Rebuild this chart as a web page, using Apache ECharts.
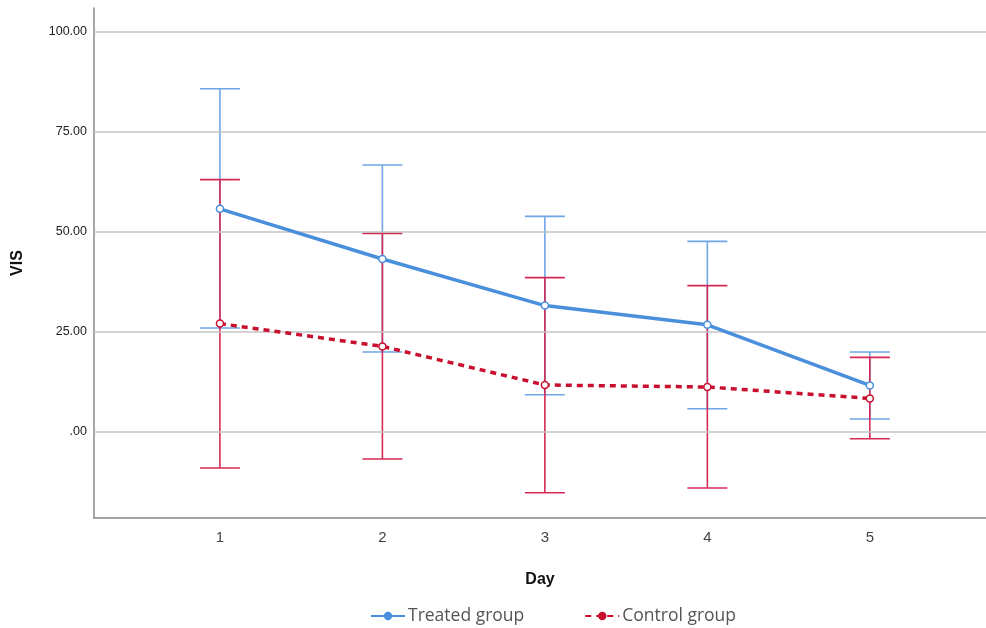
<!DOCTYPE html>
<html><head><meta charset="utf-8">
<script src="https://cdn.jsdelivr.net/npm/echarts@6/dist/echarts.min.js"></script>
<style>html,body{margin:0;padding:0;background:#fff}#c{width:986px;height:628px}</style>
</head><body><div id="c"></div>
<script>
const days = [1, 2, 3, 4, 5];
const treatedMean = [55.8, 43.25, 31.6, 26.8, 11.65];
const treatedLow = [26, 20, 9.3, 5.8, 3.25];
const treatedHigh = [85.8, 66.75, 53.9, 47.65, 20];
const controlMean = [27.1, 21.4, 11.75, 11.25, 8.4];
const controlLow = [-9, -6.75, -15.2, -14, -1.7];
const controlHigh = [63.1, 49.65, 38.6, 36.6, 18.65];
const yTicks = [0, 25, 50, 75, 100];

const blueLine = '#4a8fdc', blueBar = '#6fa6e6';
const redLine = '#c8102e', redBar = '#d42a55';

function errData(low, high) { return days.map((d, i) => [d, low[i], high[i]]); }
function errRender(color) {
  return function (params, api) {
    const x = api.value(0);
    const lo = api.coord([x, api.value(1)]);
    const hi = api.coord([x, api.value(2)]);
    const w = 20;
    const st = { stroke: color, lineWidth: 1.6 };
    return { type: 'group', children: [
      { type: 'line', shape: { x1: lo[0], y1: lo[1], x2: hi[0], y2: hi[1] }, style: st },
      { type: 'line', shape: { x1: lo[0] - w, y1: lo[1], x2: lo[0] + w, y2: lo[1] }, style: st },
      { type: 'line', shape: { x1: hi[0] - w, y1: hi[1], x2: hi[0] + w, y2: hi[1] }, style: st }
    ]};
  };
}

const chart = echarts.init(document.getElementById('c'), null, { renderer: 'canvas' });
chart.setOption({
  animation: false,
  grid: { left: 94, right: 0, top: 8, bottom: 110 },
  xAxis: {
    type: 'value', min: 0.225, max: 5.715,
    name: 'Day', nameLocation: 'middle', nameGap: 54,
    nameTextStyle: { fontSize: 16, fontWeight: 'bold', color: '#111', fontFamily: 'Liberation Sans' },
    axisLine: { show: true, onZero: false, lineStyle: { color: '#888', width: 1.5 } },
    axisTick: { show: false },
    splitLine: { show: false },
    axisLabel: { customValues: days, color: '#444', fontSize: 15, margin: 12, fontFamily: 'Liberation Sans' }
  },
  yAxis: {
    type: 'value', min: -21.5, max: 106,
    name: 'VIS', nameLocation: 'middle', nameGap: 68, nameRotate: 90,
    nameTextStyle: { fontSize: 16, fontWeight: 'bold', color: '#111', fontFamily: 'Liberation Sans' },
    axisLine: { show: true, onZero: false, lineStyle: { color: '#888', width: 1.5 } },
    axisTick: { show: false },
    splitLine: { show: false },
    axisLabel: { customValues: yTicks, color: '#222', fontSize: 12.5, margin: 7, fontFamily: 'Liberation Sans',
      formatter: v => v === 0 ? '.00' : v.toFixed(2) }
  },
  legend: {
    left: 365, top: 602, itemWidth: 34, itemHeight: 8, itemGap: 60,
    data: [
      { name: 'Treated group', itemStyle: { color: blueLine, borderColor: blueLine } },
      { name: 'Control group', itemStyle: { color: redLine, borderColor: redLine } }
    ],
    textStyle: { color: '#555', fontSize: 17.5, fontFamily: 'Open Sans', padding: [0, 0, 0, -2] }
  },
  series: [
    { type: 'line', silent: true, data: [], markLine: { silent: true, symbol: 'none', label: { show: false },
        lineStyle: { color: '#c4c4c4', width: 1.5, type: 'solid' },
        data: yTicks.map(v => ({ yAxis: v })) } },
    { type: 'custom', silent: true, renderItem: errRender(blueBar), data: errData(treatedLow, treatedHigh), z: 3 },
    { type: 'custom', silent: true, renderItem: errRender(redBar), data: errData(controlLow, controlHigh), z: 4 },
    { name: 'Treated group', type: 'line', z: 5, data: days.map((d, i) => [d, treatedMean[i]]),
      symbol: 'circle', symbolSize: 7,
      itemStyle: { color: '#fff', borderColor: blueLine, borderWidth: 1.5 },
      lineStyle: { color: blueLine, width: 3.5 } },
    { name: 'Control group', type: 'line', z: 6, data: days.map((d, i) => [d, controlMean[i]]),
      symbol: 'circle', symbolSize: 7,
      itemStyle: { color: '#fff', borderColor: redLine, borderWidth: 1.5 },
      lineStyle: { color: redLine, width: 3.5, type: [6, 5] } }
  ]
});
</script></body></html>
